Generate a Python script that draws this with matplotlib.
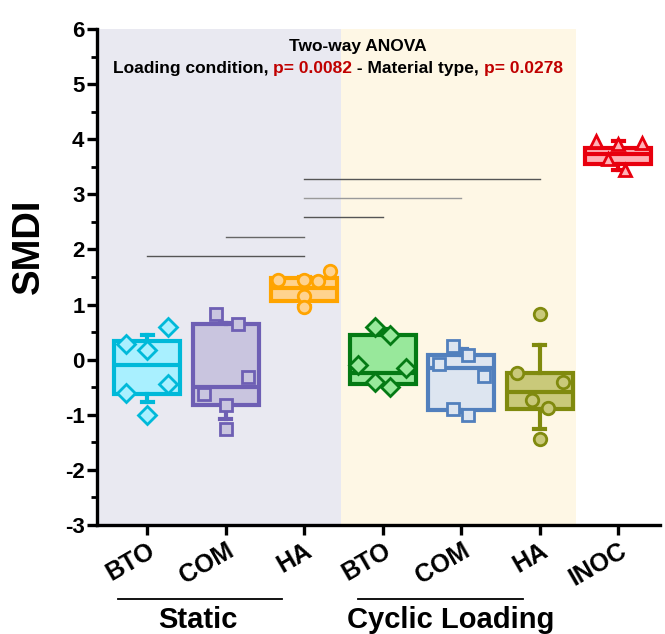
import matplotlib
matplotlib.use('Agg')
import matplotlib.pyplot as plt
import matplotlib.transforms as mtransforms
from matplotlib.ticker import MultipleLocator

plt.rcParams['font.family'] = ['Liberation Sans', 'DejaVu Sans']
plt.rcParams['font.weight'] = 'bold'
plt.rcParams['axes.unicode_minus'] = False

# ---------------- data ----------------
categories = ['BTO', 'COM', 'HA', 'BTO', 'COM', 'HA', 'INOC']
groups = ['Static', 'Cyclic Loading']

q1 = [-0.62, -0.82, 1.07, -0.44, -0.91, -0.89, 3.55]
med = [-0.09, -0.49, 1.30, -0.25, -0.16, -0.58, 3.74]
q3 = [0.33, 0.64, 1.48, 0.45, 0.09, -0.25, 3.84]
whislo = [-0.76, -1.07, 0.98, -0.45, -0.95, -1.26, 3.45]
whishi = [0.45, 0.66, 1.50, 0.55, 0.20, 0.27, 3.96]

pts_bto_static = [0.60, 0.29, 0.18, -0.45, -0.61, -1.00]
pts_com_static = [0.82, 0.64, -0.31, -0.62, -0.82, -1.25]
pts_ha_static = [1.60, 1.45, 1.45, 1.42, 1.15, 0.96]
pts_bto_cyclic = [0.60, 0.45, -0.10, -0.16, -0.40, -0.49]
pts_com_cyclic = [0.24, 0.09, -0.07, -0.29, -0.89, -1.00]
pts_ha_cyclic = [0.82, -0.25, -0.40, -0.73, -0.87, -1.44]
pts_inoc = [3.96, 3.93, 3.92, 3.65, 3.45]

sig_pairs = [(2, 5), (2, 4), (2, 3), (1, 2), (0, 2)]
sig_heights = [3.28, 2.93, 2.59, 2.22, 1.89]

anova_title = 'Two-way ANOVA'
p_loading = '0.0082'
p_material = '0.0278'

# ---------------- styles ----------------
points = [pts_bto_static, pts_com_static, pts_ha_static, pts_bto_cyclic,
          pts_com_cyclic, pts_ha_cyclic, pts_inoc]
jitter = [
    [0.27, -0.27, 0.0, 0.27, -0.27, 0.0],
    [-0.13, 0.15, 0.28, -0.28, 0.0, 0.0],
    [0.33, -0.33, 0.0, 0.18, 0.0, 0.0],
    [-0.10, 0.09, -0.32, 0.30, -0.10, 0.09],
    [-0.10, 0.09, -0.29, 0.29, -0.10, 0.09],
    [0.0, -0.29, 0.29, -0.10, 0.10, 0.0],
    [-0.29, 0.30, 0.0, -0.13, 0.09],
]
edge_colors = ['#00b9d9', '#6e5fb4', '#ffa400', '#047a14', '#5280bd', '#808a0e', '#e8000e']
fill_colors = ['#a9f0ff', '#c9c5df', '#ffd38f', '#98e89b', '#dde5f0', '#c9c97a', '#ffb1b6']
markers = ['D', 's', 'o', 'D', 's', 'o', '^']
msizes = [9, 8, 9, 9, 8, 9, 9]
sig_colors = ['#555555', '#9a9a9a', '#555555', '#666666', '#555555']

fig = plt.figure(figsize=(6.65, 6.34), dpi=100)
ax = fig.add_axes([97 / 665, 1 - 525 / 634, (660 - 97) / 665, (525 - 29) / 634])

ax.set_xlim(-0.64, 6.53)
ax.set_ylim(-3, 6)

ax.axvspan(-0.64, 2.47, color='#e9e9f1', zorder=0, lw=0)
ax.axvspan(2.47, 5.46, color='#fef7e5', zorder=0, lw=0)

for i in range(len(categories)):
    st = [dict(med=med[i], q1=q1[i], q3=q3[i], whislo=whislo[i], whishi=whishi[i], fliers=[])]
    ec = edge_colors[i]
    ax.bxp(st, positions=[i], widths=0.84, patch_artist=True, showfliers=False,
           capwidths=0.14,
           boxprops=dict(facecolor=fill_colors[i], edgecolor=ec, linewidth=3),
           whiskerprops=dict(color=ec, linewidth=3),
           capprops=dict(color=ec, linewidth=3),
           medianprops=dict(color=ec, linewidth=3),
           zorder=3)
    xs = [i + j for j in jitter[i]]
    ax.plot(xs, points[i], linestyle='none', marker=markers[i], ms=msizes[i],
            mfc=fill_colors[i], mec=ec, mew=2, zorder=4)

for (a, b), h, c in zip(sig_pairs, sig_heights, sig_colors):
    ax.plot([a, b], [h, h], color=c, lw=1.0, zorder=2)

# axes styling
for s in ['top', 'right']:
    ax.spines[s].set_visible(False)
for s in ['left', 'bottom']:
    ax.spines[s].set_linewidth(2.4)
ax.yaxis.set_major_locator(MultipleLocator(1))
ax.yaxis.set_minor_locator(MultipleLocator(0.5))
ax.tick_params(axis='y', which='major', length=7, width=2.4, labelsize=16, pad=2)
ax.tick_params(axis='y', which='minor', length=4, width=2.0)
ax.tick_params(axis='x', which='major', length=7, width=2.4, labelsize=18, pad=3)
ax.set_xticks(range(len(categories)))
ax.set_xticklabels(categories, rotation=30, ha='right', rotation_mode='anchor')
for lab in ax.get_yticklabels() + ax.get_xticklabels():
    lab.set_fontweight('bold')

ax.set_ylabel('SMDI', fontsize=27.5, fontweight='bold')
ax.yaxis.set_label_coords(-0.089, (525 - 246) / 496)

# group labels below
trans = mtransforms.blended_transform_factory(ax.transData, ax.transAxes)
ax.plot([-0.37, 1.72], [-0.149, -0.149], color='black', lw=1.3, transform=trans, clip_on=False)
ax.plot([2.69, 4.79], [-0.149, -0.149], color='black', lw=1.3, transform=trans, clip_on=False)
ax.text(0.65, -0.192, groups[0], transform=trans, ha='center', va='center', fontsize=21, fontweight='bold')
ax.text(3.86, -0.192, groups[1], transform=trans, ha='center', va='center', fontsize=21, fontweight='bold')

# ANOVA header
hfs = 12.5
fig.text(358 / 665, 1 - 47 / 634, anova_title, ha='center', va='center', fontsize=hfs, fontweight='bold')
pieces = [('Loading condition, ', 'black'), ('p= ' + p_loading, '#c00000'),
          (' - Material type, ', 'black'), ('p= ' + p_material, '#c00000')]
prev = fig.text(113 / 665, 1 - 68 / 634, pieces[0][0], ha='left', va='center', fontsize=hfs,
                fontweight='bold', color=pieces[0][1])
for txt, col in pieces[1:]:
    prev = ax.annotate(txt, xy=(1, 0), xycoords=prev, ha='left', va='bottom', fontsize=hfs,
                       fontweight='bold', color=col, annotation_clip=False)

fig.savefig('out.png', dpi=100)
